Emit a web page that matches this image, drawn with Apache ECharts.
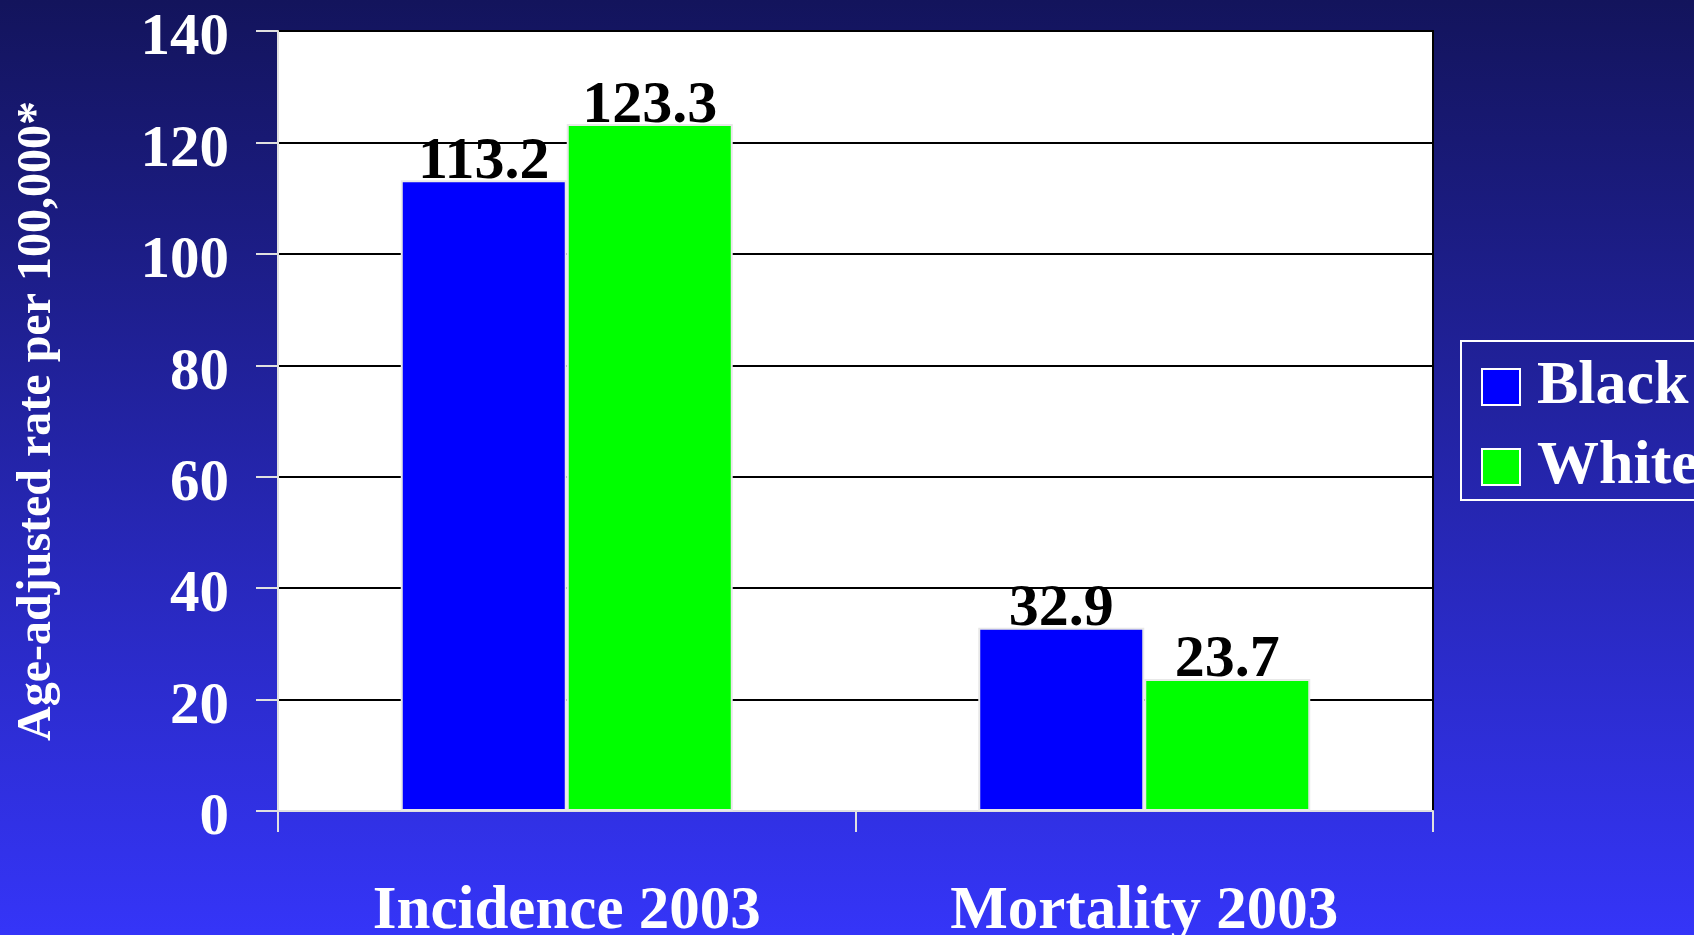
<!DOCTYPE html>
<html>
<head>
<meta charset="utf-8">
<script src="https://cdn.jsdelivr.net/npm/echarts@6/dist/echarts.min.js"></script>
<style>
  html, body { margin: 0; padding: 0; }
  #chart { width: 1694px; height: 935px; }
</style>
</head>
<body>
<div id="chart"></div>
<script>
// rates per 100,000
const categories = ['Incidence 2003', 'Mortality 2003'];
const blackRates = [113.2, 32.9];
const whiteRates = [123.3, 23.7];
const seriesNames = ['Black', 'White'];
const barColors = ['#0000ff', '#00ff00'];

const serif = '"Liberation Serif", "Times New Roman", serif';

const chart = echarts.init(document.getElementById('chart'));

const makeSeries = (name, data, color) => ({
  name: name,
  type: 'bar',
  data: data,
  barWidth: 166,
  barGap: '0%',
  itemStyle: { color: color, borderColor: '#e8e8e8', borderWidth: 2 },
  label: {
    show: true,
    position: 'top',
    distance: -12,
    color: '#000',
    fontFamily: serif,
    fontWeight: 'bold',
    fontSize: 60
  }
});

const option = {
  backgroundColor: {
    type: 'linear', x: 0, y: 0, x2: 0, y2: 1,
    colorStops: [
      { offset: 0, color: '#13145c' },
      { offset: 1, color: '#3535f8' }
    ]
  },
  animation: false,
  grid: {
    left: 278, right: 261, top: 31, bottom: 124,
    outerBoundsMode: 'none',
    containLabel: false,
    show: true,
    backgroundColor: '#fff',
    borderColor: '#000',
    borderWidth: 2
  },
  legend: {
    orient: 'vertical',
    left: 1461,
    top: 341,
    padding: [15, 30, 2, 20],
    itemGap: 18,
    itemWidth: 38,
    itemHeight: 36,
    borderColor: '#fff',
    borderWidth: 2,
    icon: 'rect',
    itemStyle: { borderColor: '#fff', borderWidth: 2 },
    textStyle: {
      color: '#fff',
      fontFamily: serif,
      fontWeight: 'bold',
      fontSize: 62,
      padding: [0, 0, 0, 12]
    },
    data: seriesNames
  },
  xAxis: {
    type: 'category',
    data: categories,
    axisLine: { lineStyle: { color: '#e0e0e0', width: 2 } },
    axisTick: { show: true, length: 21, lineStyle: { color: '#e0e0e0', width: 2 } },
    axisLabel: {
      color: '#fff',
      fontFamily: serif,
      fontWeight: 'bold',
      fontSize: 61,
      margin: 71
    }
  },
  yAxis: {
    type: 'value',
    min: 0,
    max: 140,
    interval: 20,
    name: 'Age-adjusted rate per 100,000*',
    nameLocation: 'middle',
    nameRotate: 90,
    nameGap: 216,
    nameTextStyle: {
      color: '#fff',
      fontFamily: serif,
      fontWeight: 'bold',
      fontSize: 48
    },
    axisLine: { show: true, lineStyle: { color: '#e0e0e0', width: 2 } },
    axisTick: { show: true, length: 22, lineStyle: { color: '#e0e0e0', width: 2 } },
    splitLine: { show: true, lineStyle: { color: '#000', width: 2 } },
    axisLabel: {
      color: '#fff',
      fontFamily: serif,
      fontWeight: 'bold',
      fontSize: 59,
      margin: 49,
      verticalAlign: 'top',
      lineHeight: 16
    }
  },
  series: [
    makeSeries(seriesNames[0], blackRates, barColors[0]),
    makeSeries(seriesNames[1], whiteRates, barColors[1])
  ]
};

chart.setOption(option);
</script>
</body>
</html>
